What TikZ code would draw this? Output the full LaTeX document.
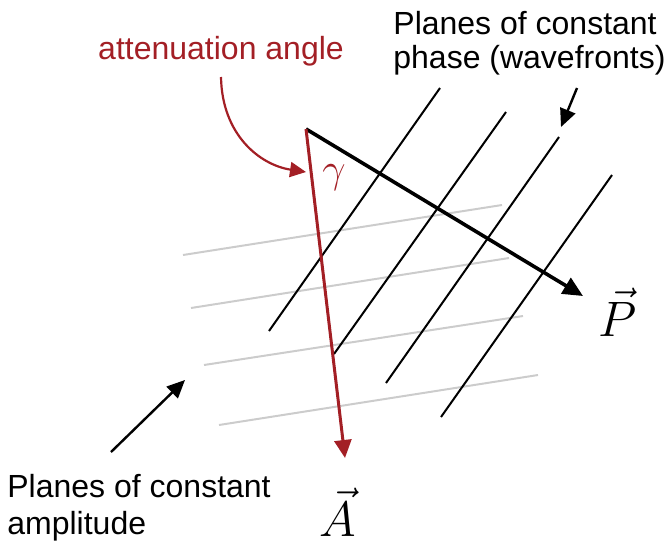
\documentclass[tikz,border=0pt]{standalone}
\usepackage{amsmath}
\usepackage{fontspec}
\usepackage{xcolor}
\usepackage{tikz}
\usetikzlibrary{arrows.meta,positioning,calc}

\newfontfamily\labelfont{Liberation Sans}
\definecolor{attred}{RGB}{163,31,37}

\begin{document}
\begin{tikzpicture}[
  x=0.5pt, y=-0.5pt,
  every node/.style={inner sep=0pt},
  wavefront/.style={line width=1pt, black},
  ampplane/.style={line width=1pt, gray!40},
  pointer/.style={-{Triangle[length=9pt, width=8pt]}, line width=1.2pt},
  caption/.style={font=\labelfont\fontsize{16}{16.8}\selectfont, align=left},
]
\useasboundingbox (0,0) rectangle (667,546);

%% ── Planes of constant amplitude (gray) ─────────────────────────────────────
\foreach \xa/\ya/\xb/\yb in {183/255/502/205, 191/308/509/258,
                             204/365/523/316, 219/425/538/375}
  \draw[ampplane] (\xa,\ya) -- (\xb,\yb);

%% ── Planes of constant phase (wavefronts) ───────────────────────────────────
\foreach \xa/\ya/\xb/\yb in {269/331/440/88, 334/354/506/112,
                             386/383/559/137, 441/417/612/175}
  \draw[wavefront] (\xa,\ya) -- (\xb,\yb);

%% ── Vectors P and A ─────────────────────────────────────────────────────────
\coordinate (O) at (306,129);
\coordinate (Ptip) at (583,296);
\coordinate (Atip) at (345,458);

\node (Plabel) at (618,312) {\fontsize{30}{32}\selectfont $\vec{P}$};
\node (Alabel) at (338,512) {\fontsize{30}{32}\selectfont $\vec{A}$};

\draw[-{Triangle[length=10pt, width=9pt]}, line width=1.8pt] (O) -- (Ptip);
\draw[-{Triangle[length=9pt, width=8.5pt]}, line width=1.5pt, attred]
  (O) -- (Atip);

%% ── Attenuation angle ───────────────────────────────────────────────────────
\node[attred] (gamma) at (334,178) {\fontsize{20}{22}\selectfont $\gamma$};
\node[attred, font=\labelfont\fontsize{16}{18}\selectfont, anchor=base]
  (attlabel) at (221,59) {attenuation angle};
\coordinate (curvetip) at (306,172);
\draw[-{Triangle[length=8pt, width=7.5pt]}, line width=1.1pt, attred]
  (221,77) .. controls (222,135) and (260,165) .. (curvetip);

%% ── Labels for the two families of planes ──────────────────────────────────
\node[caption, anchor=north west] (phaselabel) at (393,11)
  {Planes of constant\\phase (wavefronts)};
\coordinate (phasetail) at (577,88);
\coordinate (phasetip) at (561,127);
\draw[pointer] (phasetail) -- (phasetip);

\node[caption, font=\labelfont\fontsize{16}{18.5}\selectfont,
      anchor=north west] (amplabel) at (7,474)
  {Planes of constant\\amplitude};
\coordinate (amptail) at (111,452);
\coordinate (amptip) at (185,380);
\draw[pointer] (amptail) -- (amptip);

\end{tikzpicture}
\end{document}
